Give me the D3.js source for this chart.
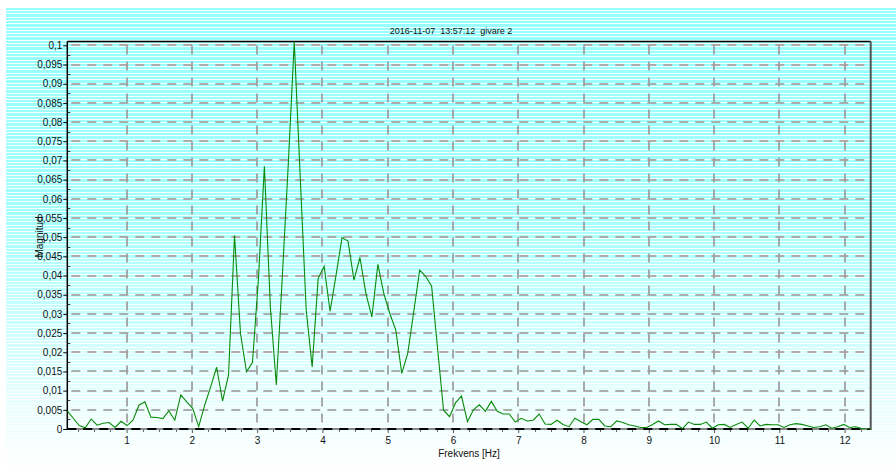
<!DOCTYPE html>
<html>
<head>
<meta charset="utf-8">
<script src="https://cdn.jsdelivr.net/npm/d3@7"></script>
<style>
  body { margin: 0; background: #fff; }
  svg text { font-family: "Liberation Sans", Arial, sans-serif; fill: #111; }
</style>
</head>
<body>
<svg id="chart" width="896" height="470"></svg>
<script>
// frequency step between FFT bins [Hz]
const freqStep = 0.0915

// magnitude per bin, first bin at freqStep
const magnitude = [
  0.0047, 0.0028, 0.0009, 0.0003, 0.0026, 0.0010, 0.0015, 0.0017, 0.0004, 0.0020,
  0.0009, 0.0023, 0.0062, 0.0071, 0.0031, 0.0030, 0.0027, 0.0047, 0.0023, 0.0089,
  0.0071, 0.0054, 0.0006, 0.0062, 0.0110, 0.0161, 0.0073, 0.0141, 0.0505, 0.0249,
  0.0149, 0.0173, 0.0390, 0.0685, 0.0318, 0.0115, 0.0397, 0.0690, 0.1009, 0.0657,
  0.0310, 0.0162, 0.0392, 0.0424, 0.0307, 0.0401, 0.0499, 0.0490, 0.0388, 0.0447,
  0.0353, 0.0292, 0.0429, 0.0353, 0.0301, 0.0258, 0.0145, 0.0197, 0.0305, 0.0414,
  0.0398, 0.0372, 0.0210, 0.0049, 0.0032, 0.0068, 0.0086, 0.0019, 0.0050, 0.0063,
  0.0046, 0.0072, 0.0046, 0.0039, 0.0039, 0.0018, 0.0028, 0.0021, 0.0023, 0.0039,
  0.0013, 0.0012, 0.0023, 0.0012, 0.0006, 0.0028, 0.0019, 0.0011, 0.0025, 0.0025,
  0.0008, 0.0006, 0.0021, 0.0017, 0.0011, 0.0008, 0.0004, 0.0004, 0.0012, 0.0021,
  0.0011, 0.0012, 0.0012, 0.0001, 0.0018, 0.0012, 0.0012, 0.0018, 0.0002, 0.0011,
  0.0012, 0.0004, 0.0012, 0.0018, 0.0002, 0.0023, 0.0008, 0.0012, 0.0011, 0.0011,
  0.0004, 0.0011, 0.0014, 0.0012, 0.0008, 0.0004, 0.0006, 0.0011, 0.0002, 0.0006,
  0.0012, 0.0004, 0.0006, 0.0001, 0.0000, 0.0001
]

const xTicks = [1, 2, 3, 4, 5, 6, 7, 8, 9, 10, 11, 12]
const yTicks = [0, 0.005, 0.01, 0.015, 0.02, 0.025, 0.03, 0.035, 0.04, 0.045, 0.05,
  0.055, 0.06, 0.065, 0.07, 0.075, 0.08, 0.085, 0.09, 0.095, 0.1]
const yTickLabels = ['0', '0,005', '0,01', '0,015', '0,02', '0,025', '0,03', '0,035', '0,04',
  '0,045', '0,05', '0,055', '0,06', '0,065', '0,07', '0,075', '0,08', '0,085', '0,09', '0,095', '0,1']

const title = '2016-11-07  13:57:12  givare 2'
const xLabel = 'Frekvens [Hz]'
const yLabel = 'Magnitud'

const W = 896, H = 470
const pLeft = 67.3, pRight = 870.7, pTop = 41.5, pBottom = 429

const svg = d3.select('#chart')

// striped cyan background fading to white
const defs = svg.append('defs')
const grad = defs.append('linearGradient')
    .attr('id', 'bg')
    .attr('x1', 0).attr('y1', 0).attr('x2', 0).attr('y2', 1)
grad.append('stop').attr('offset', '0%').attr('stop-color', '#95ffff')
grad.append('stop').attr('offset', '45%').attr('stop-color', '#a4ffff')
grad.append('stop').attr('offset', '75%').attr('stop-color', '#d6ffff')
grad.append('stop').attr('offset', '100%').attr('stop-color', '#ffffff')

defs.append('clipPath').attr('id', 'plotClip')
  .append('rect')
    .attr('x', pLeft).attr('y', pTop - 2)
    .attr('width', pRight - pLeft).attr('height', pBottom - pTop + 2)

svg.append('rect')
    .attr('x', 6).attr('y', 8)
    .attr('width', W - 6).attr('height', H - 8)
    .attr('fill', 'url(#bg)')

svg.append('g')
  .selectAll('line')
  .data(d3.range(10, H, 3.3))
  .enter()
  .append('line')
    .attr('x1', 6).attr('x2', W)
    .attr('y1', d => Math.round(d) + 0.5).attr('y2', d => Math.round(d) + 0.5)
    .attr('stroke', '#fff')
    .attr('stroke-opacity', 0.9)
    .attr('stroke-width', 1)

const xScale = d3.scaleLinear()
    .domain([freqStep, 12.4])
    .range([pLeft, pRight])

const yScale = d3.scaleLinear()
    .domain([0, 0.101])
    .range([pBottom, pTop])

// grid
svg.append('g')
  .selectAll('line')
  .data(yTicks.slice(1))
  .enter()
  .append('line')
    .attr('x1', pLeft + 4).attr('x2', pRight)
    .attr('y1', d => Math.round(yScale(d)))
    .attr('y2', d => Math.round(yScale(d)))
    .attr('stroke', '#adadad')
    .attr('stroke-width', 1.8)
    .attr('stroke-dasharray', '9,7')

svg.append('g')
  .selectAll('line')
  .data(xTicks)
  .enter()
  .append('line')
    .attr('x1', d => Math.round(xScale(d)))
    .attr('x2', d => Math.round(xScale(d)))
    .attr('y1', pTop + 4).attr('y2', pBottom)
    .attr('stroke', '#a0a0a0')
    .attr('stroke-width', 1.8)
    .attr('stroke-dasharray', '9,7')

// y axis
const yAxis = d3.axisLeft(yScale)
    .tickValues(yTicks)
    .tickFormat((d, i) => yTickLabels[i])
    .tickSize(4)
    .tickPadding(1)

const gy = svg.append('g')
    .attr('transform', `translate(${pLeft},0)`)
    .call(yAxis)
gy.select('.domain').remove()
gy.selectAll('text').style('font-size', '10px').style('fill', '#111')

svg.append('g')
  .selectAll('line')
  .data(d3.range(0.0025, 0.1, 0.005))
  .enter()
  .append('line')
    .attr('x1', pLeft).attr('x2', pLeft + 3)
    .attr('y1', d => Math.round(yScale(d)) + 0.5)
    .attr('y2', d => Math.round(yScale(d)) + 0.5)
    .attr('stroke', '#333')

// x axis
const xAxis = d3.axisBottom(xScale)
    .tickValues(xTicks)
    .tickFormat(d3.format('d'))
    .tickSize(4)
    .tickPadding(4)

const gx = svg.append('g')
    .attr('transform', `translate(0,${pBottom})`)
    .call(xAxis)
gx.select('.domain').remove()
gx.selectAll('text').style('font-size', '10px').style('fill', '#111')
gx.selectAll('line').attr('stroke', '#555')

svg.append('g')
  .selectAll('line')
  .data(d3.range(0.25, 12.4, 0.25).filter(d => d % 1 !== 0))
  .enter()
  .append('line')
    .attr('x1', d => Math.round(xScale(d)) + 0.5)
    .attr('x2', d => Math.round(xScale(d)) + 0.5)
    .attr('y1', pBottom).attr('y2', pBottom + 3)
    .attr('stroke', '#666')

// frame
svg.append('line')
    .attr('x1', pLeft).attr('x2', pRight)
    .attr('y1', pBottom).attr('y2', pBottom)
    .attr('stroke', '#888').attr('stroke-width', 2)
svg.append('line')
    .attr('x1', pLeft).attr('x2', pRight)
    .attr('y1', pBottom).attr('y2', pBottom)
    .attr('stroke', '#000').attr('stroke-width', 2)
    .attr('stroke-dasharray', '9,7')
svg.append('line')
    .attr('x1', pLeft).attr('x2', pRight)
    .attr('y1', pTop).attr('y2', pTop)
    .attr('stroke', '#000').attr('stroke-width', 1.3)
svg.append('line')
    .attr('x1', pLeft).attr('x2', pLeft)
    .attr('y1', pTop).attr('y2', pBottom + 1)
    .attr('stroke', '#000').attr('stroke-width', 1.5)
svg.append('line')
    .attr('x1', pRight).attr('x2', pRight)
    .attr('y1', pTop).attr('y2', pBottom + 1)
    .attr('stroke', '#555').attr('stroke-width', 2)

// spectrum
const line = d3.line()
    .x((d, i) => xScale((i + 1) * freqStep))
    .y(d => yScale(d))

svg.append('path')
    .datum(magnitude)
    .attr('d', line)
    .attr('clip-path', 'url(#plotClip)')
    .attr('fill', 'none')
    .attr('stroke', '#0a8a0a')
    .attr('stroke-width', 1.1)

// texts
svg.append('text')
    .text(title)
    .attr('x', 451)
    .attr('y', 34)
    .attr('text-anchor', 'middle')
    .style('font-size', '9px')
    .style('white-space', 'pre')

svg.append('text')
    .text(xLabel)
    .attr('x', 469)
    .attr('y', 457)
    .attr('text-anchor', 'middle')
    .style('font-size', '10px')

svg.append('text')
    .text(yLabel)
    .attr('transform', 'translate(43,237) rotate(-90)')
    .attr('text-anchor', 'middle')
    .style('font-size', '10px')
</script>
</body>
</html>
